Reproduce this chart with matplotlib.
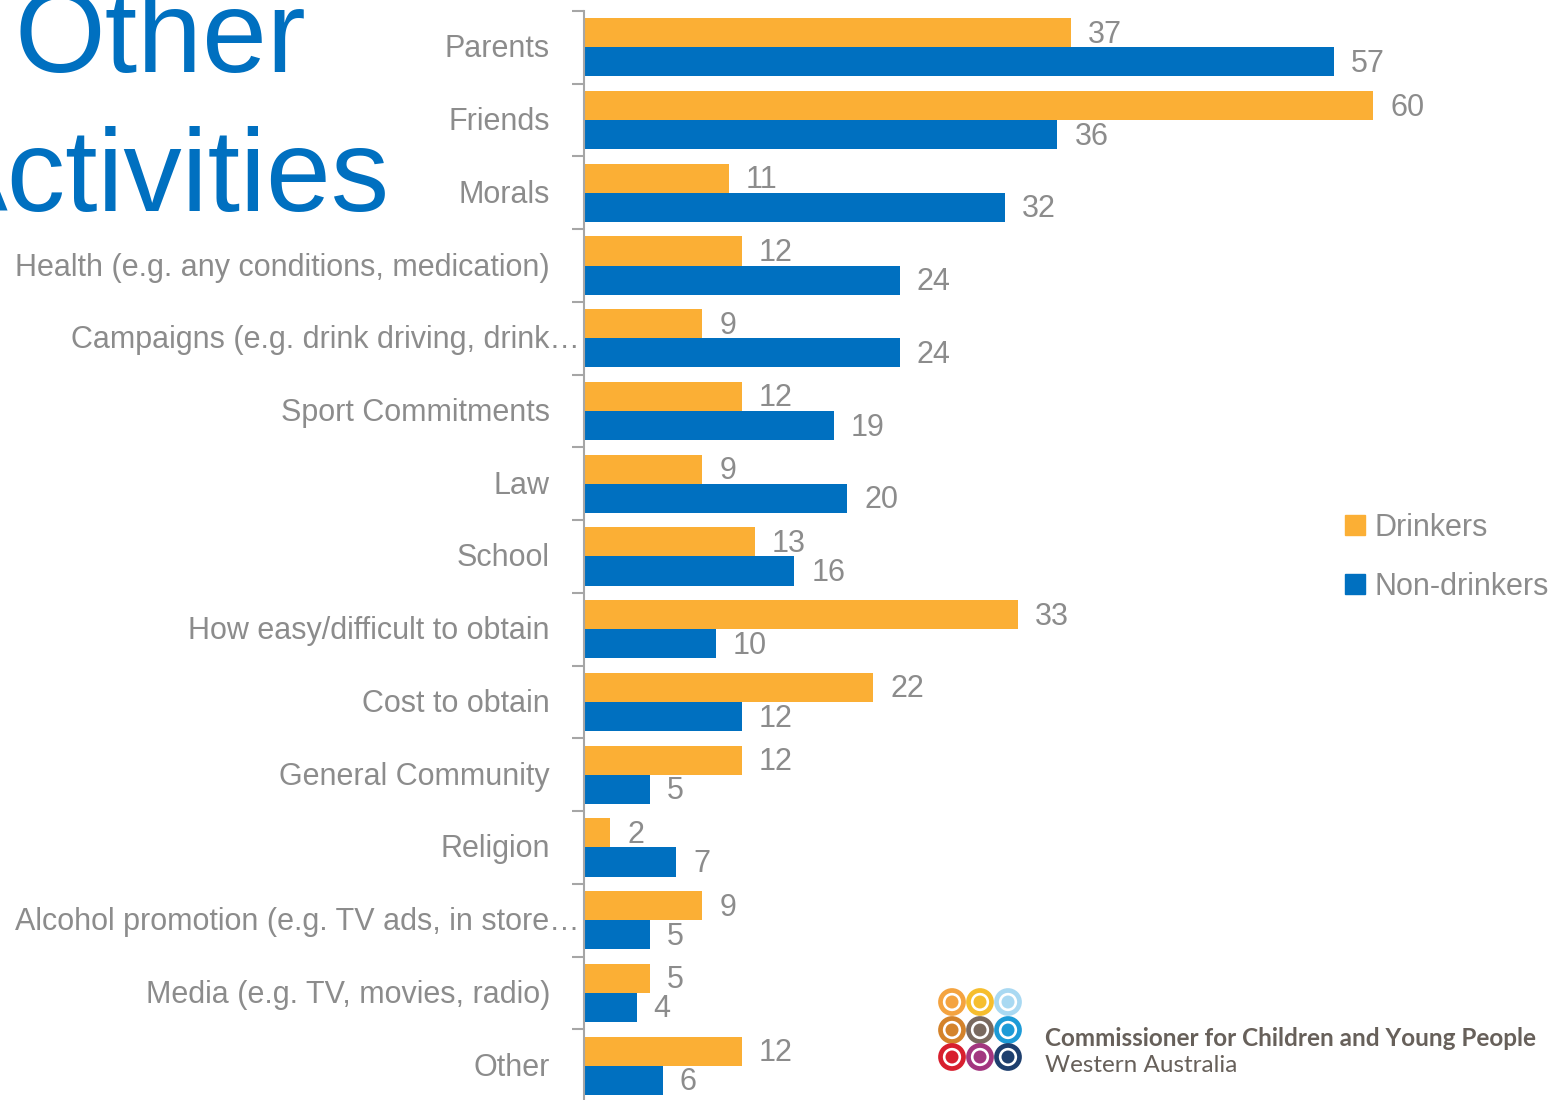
import numpy as np
import matplotlib
matplotlib.use("Agg")
import matplotlib.pyplot as plt
from matplotlib.patches import Patch, Ellipse
from matplotlib.transforms import offset_copy

categories = ["Parents", "Friends", "Morals", "Health (e.g. any conditions, medication)",
              "Campaigns (e.g. drink driving, drink\u2026", "Sport Commitments", "Law", "School",
              "How easy/difficult to obtain", "Cost to obtain", "General Community", "Religion",
              "Alcohol promotion (e.g. TV ads, in store\u2026", "Media (e.g. TV, movies, radio)", "Other"]
drinkers = [37, 60, 11, 12, 9, 12, 9, 13, 33, 22, 12, 2, 9, 5, 12]
non_drinkers = [57, 36, 32, 24, 24, 19, 20, 16, 10, 12, 5, 7, 5, 4, 6]
series_names = ["Drinkers", "Non-drinkers"]

ORANGE = "#FBAF35"
BLUE = "#0070C0"
GRAY = "#8C8C8C"
AXGRAY = "#A6A6A6"

plt.rcParams["font.family"] = ["Liberation Sans", "DejaVu Sans"]

W, H = 1565, 1100
fig = plt.figure(figsize=(W / 100, H / 100), dpi=100)
ax = fig.add_axes([584 / W, 1 - 1102 / H, (W - 584) / W, (1102 - 11) / H])

n = len(categories)
y = np.arange(n)
bh = 0.4
ax.barh(y - bh / 2, drinkers, height=bh, color=ORANGE, label=series_names[0])
ax.barh(y + bh / 2, non_drinkers, height=bh, color=BLUE, label=series_names[1])

ax.set_ylim(n - 0.5, -0.5)
ax.set_xlim(0, (W - 584) / 13.15)
for s in ["top", "right", "bottom"]:
    ax.spines[s].set_visible(False)
ax.spines["left"].set_color(AXGRAY)
ax.spines["left"].set_linewidth(1.5)
ax.set_xticks([])
ax.set_yticks(np.arange(-0.5, n, 1.0))
ax.set_yticklabels([])
ax.tick_params(axis="y", direction="out", length=8.6, width=1.5, color=AXGRAY)

FS = 22
for i, c in enumerate(categories):
    off = -4 if c.endswith("\u2026") else -34
    tr = offset_copy(ax.get_yaxis_transform(), fig=fig, x=off, y=-2, units="dots")
    ax.text(0, i, c, transform=tr, ha="right", va="center", fontsize=FS, color=GRAY)

for i in range(n):
    ax.annotate(str(drinkers[i]), xy=(drinkers[i], i - bh / 2), xytext=(17, -2),
                textcoords="offset pixels", ha="left", va="center", fontsize=FS, color=GRAY)
    ax.annotate(str(non_drinkers[i]), xy=(non_drinkers[i], i + bh / 2), xytext=(17, -2),
                textcoords="offset pixels", ha="left", va="center", fontsize=FS, color=GRAY)

handles = [Patch(color=ORANGE), Patch(color=BLUE)]
fig.legend(handles, series_names, loc="upper left", bbox_to_anchor=(1345 / W, 1 - 513 / H),
           frameon=False, fontsize=FS, handlelength=0.64, handleheight=0.64,
           handletextpad=0.32, labelspacing=0.95, borderpad=0, borderaxespad=0,
           labelcolor=GRAY)

# Title
fig.text(15 / W, 1 - 72 / H, "Other", fontsize=84, color=BLUE, ha="left", va="baseline")
fig.text(390 / W, 1 - 211 / H, "Activities", fontsize=84, color=BLUE, ha="right", va="baseline")

# Logo
logo_colors = [["#F4A340", "#F6BE2E", "#A9D9F2"],
               ["#D4832A", "#7A6A5F", "#1D9BD7"],
               ["#D81F2E", "#A3367F", "#1E3F6E"]]
xs = [952, 980, 1008]
ys = [1002, 1030, 1057]
for r, yy in enumerate(ys):
    for c, xx in enumerate(xs):
        col = logo_colors[r][c]
        fig.add_artist(Ellipse((xx / W, 1 - yy / H), 23 / W, 23 / H, transform=fig.transFigure,
                               facecolor="white", edgecolor=col, lw=3.4))
        fig.add_artist(Ellipse((xx / W, 1 - yy / H), 13 / W, 13 / H, transform=fig.transFigure,
                               facecolor=col, edgecolor="none"))
fig.text(1045 / W, 1 - 1038 / H, "Commissioner for Children and Young People", fontsize=17.5,
         fontweight="bold", color="#67605A", ha="left", va="center", family="Lato")
fig.text(1045 / W, 1 - 1066 / H, "Western Australia", fontsize=17.5, color="#67605A",
         ha="left", va="center", family="Lato")

fig.savefig("out.png", dpi=100)
